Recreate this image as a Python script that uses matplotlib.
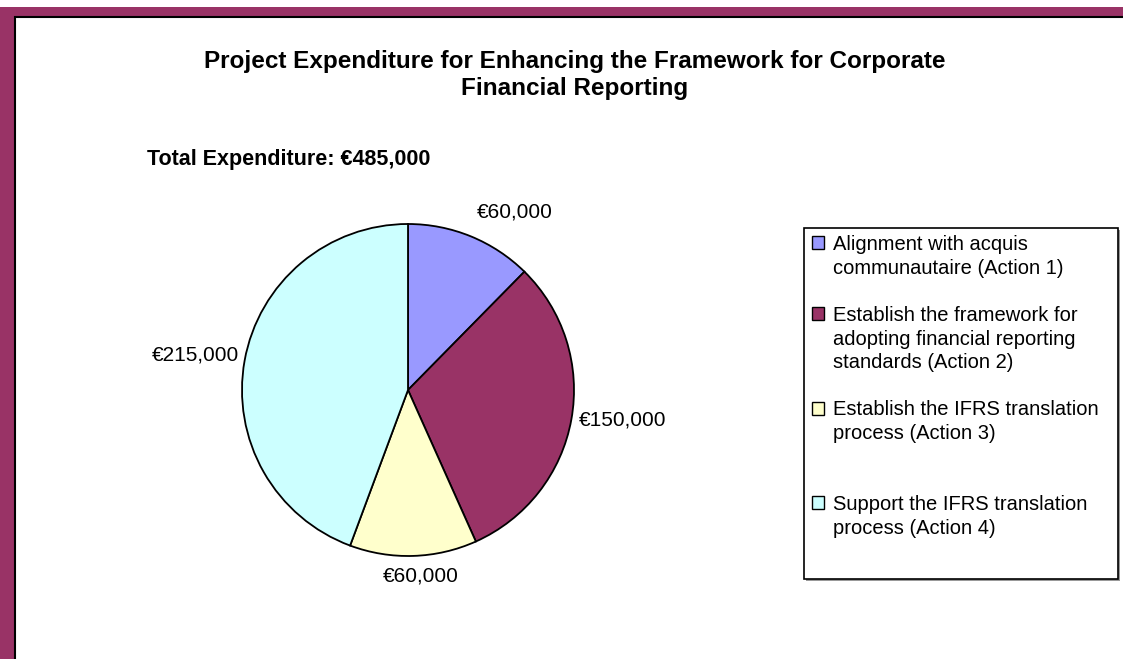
import matplotlib.pyplot as plt
import numpy as np
from matplotlib.patches import Rectangle

plt.rcParams['font.family'] = ['Liberation Sans', 'DejaVu Sans']

## chart data
actions = [
    ["Alignment with acquis", "communautaire (Action 1)"],
    ["Establish the framework for", "adopting financial reporting", "standards (Action 2)"],
    ["Establish the IFRS translation", "process (Action 3)"],
    ["Support the IFRS translation", "process (Action 4)"],
]
amounts = [60000, 150000, 60000, 215000]
colors = ["#9999FF", "#993366", "#FFFFCC", "#CCFFFF"]
title = "Project Expenditure for Enhancing the Framework for Corporate\nFinancial Reporting"

# styling: label offsets (px) from the wedge rim, blank legend rows after each entry
label_offsets = [(44, 24), (51, -1), (7, -20), (-49, 6)]
gap_rows = [1, 1, 2, 0]

W, H = 1123, 659
fig = plt.figure(figsize=(W / 100, H / 100), dpi=100)

# maroon frame (top and left) with a thin black inner line
fig.add_artist(Rectangle((0, 0), 1, 1 - 7 / H, transform=fig.transFigure,
                         facecolor="#993366", edgecolor="none", zorder=0))
fig.add_artist(Rectangle((15 / W, -0.1), 1.2, 1.1 - 17 / H, transform=fig.transFigure,
                         facecolor="white", edgecolor="black", linewidth=1.5, zorder=0))

fig.text(575 / W, 1 - 75 / H, title, ha="center", va="center", fontsize=17.5,
         fontweight="bold", linespacing=1.25)
fig.text(147 / W, 1 - 160 / H, "Total Expenditure: \u20ac{:,}".format(sum(amounts)),
         ha="left", va="center", fontsize=15.5, fontweight="bold")

# pie area: centre (408, 390), radius 166 px
ax = fig.add_axes([242 / W, 1 - 556 / H, 332 / W, 332 / H])
wedges, _ = ax.pie(
    amounts, colors=colors, startangle=90, counterclock=False,
    wedgeprops=dict(edgecolor="black", linewidth=1.3),
)
ax.set_xlim(-1, 1)
ax.set_ylim(-1, 1)

for w, a, off in zip(wedges, amounts, label_offsets):
    mid = np.deg2rad((w.theta1 + w.theta2) / 2)
    ax.annotate("\u20ac{:,}".format(a), xy=(np.cos(mid), np.sin(mid)),
                xytext=off, textcoords="offset pixels",
                ha="center", va="center", fontsize=15)

# legend: one row per text line, handle on the first line of each entry
blank = Rectangle((0, 0), 1, 1, facecolor="none", edgecolor="none")
handles, labels = [], []
for w, lines, gap in zip(wedges, actions, gap_rows):
    for i, line in enumerate(lines):
        handles.append(w if i == 0 else blank)
        labels.append(line)
    for _ in range(gap):
        handles.append(blank)
        labels.append(" ")

# legend box with a faint shadow
fig.add_artist(Rectangle((806 / W, 1 - 581 / H), 314 / W, 351 / H, transform=fig.transFigure,
                         facecolor="#999999", edgecolor="none", zorder=1))
fig.add_artist(Rectangle((804 / W, 1 - 579 / H), 314 / W, 351 / H, transform=fig.transFigure,
                         facecolor="white", edgecolor="black", linewidth=1.2, zorder=1))

leg = fig.legend(handles, labels, loc="upper left",
                 bbox_to_anchor=(812 / W, 1 - 235 / H),
                 fontsize=14.5, frameon=False,
                 handlelength=0.62, handleheight=0.62, handletextpad=0.4,
                 labelspacing=0.23, borderpad=0, borderaxespad=0)
leg.set_zorder(2)
for h in leg.legend_handles:
    h.set_linewidth(1.0)

fig.savefig("out.png", dpi=100)
